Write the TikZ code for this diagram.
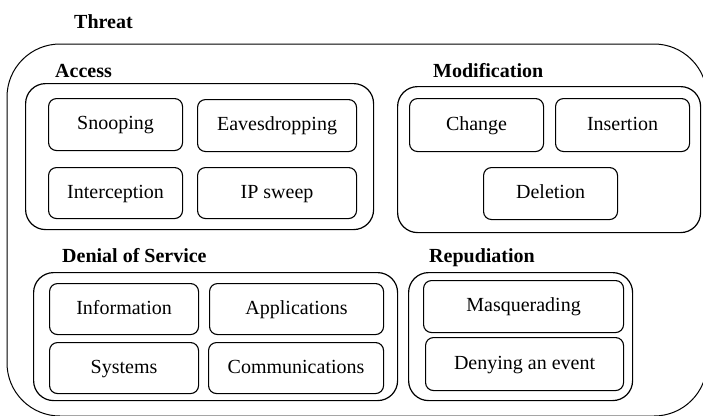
\documentclass[tikz,border=0pt]{standalone}
\usepackage{fontspec}
\setmainfont{Liberation Serif}[BoldFont={Liberation Serif Bold}]
\usetikzlibrary{positioning}
\tikzset{
  frame/.style  = {draw, line width=1pt, rounded corners=53pt},
  group/.style  = {draw, line width=1.2pt, rounded corners=20pt, inner sep=0pt,
                   anchor=north west},
  item/.style   = {draw, line width=1.1pt, rounded corners=8pt, inner sep=0pt,
                   align=center, anchor=north west, text height=14pt, text depth=4pt,
                   font=\rmfamily\fontsize{20}{24}\selectfont},
  title/.style  = {anchor=base west, inner sep=0pt,
                   font=\rmfamily\fontsize{20}{24}\selectfont\bfseries}
}

\begin{document}
\begin{tikzpicture}[x=1pt, y=-1pt]
\useasboundingbox (0,0) rectangle (703,415);
\clip (0,0) rectangle (703,415);

% outer frame, runs a little past the page on the right and bottom
\node[title] (threat) at (74,28) {Threat};
\draw[frame] (7,44) rectangle (707,416);

% Access
\node[title] (accesslbl) at (55,77) {Access};
\node[group, minimum width=348pt, minimum height=146pt] (access) at (25,83) {};
\node[item, minimum width=134pt, minimum height=52pt] (snoop) at (48,98) {Snooping};
\node[item, minimum width=159pt, minimum height=52pt] (eaves) at (197,99) {Eavesdropping};
\node[item, minimum width=134pt, minimum height=51pt] (intercept) at (48,167) {Interception};
\node[item, minimum width=159pt, minimum height=51pt] (ipsweep) at (197,167) {IP sweep};

% Modification
\node[title] (modiflbl) at (433,77) {Modification};
\node[group, minimum width=303pt, minimum height=146pt] (modif) at (397,86) {};
\node[item, minimum width=134pt, minimum height=53pt] (change) at (409,98) {Change};
\node[item, minimum width=134pt, minimum height=53pt] (insert) at (555,98) {Insertion};
\node[item, minimum width=134pt, minimum height=52pt] (delete) at (483,167) {Deletion};

% Denial of Service
\node[title] (doslbl) at (62,262) {Denial of Service};
\node[group, minimum width=364pt, minimum height=128pt] (dos) at (33,272) {};
\node[item, minimum width=149pt, minimum height=51pt] (info) at (49,283) {Information};
\node[item, minimum width=174pt, minimum height=51pt] (apps) at (209,283) {Applications};
\node[item, minimum width=149pt, minimum height=51pt] (sys) at (49,342) {Systems};
\node[item, minimum width=175pt, minimum height=51pt] (comms) at (208,342) {Communications};

% Repudiation
\node[title] (repudlbl) at (429,262) {Repudiation};
\node[group, minimum width=224pt, minimum height=128pt] (repud) at (408,272) {};
\node[item, minimum width=200pt, minimum height=52pt] (masq) at (423,280) {Masquerading};
\node[item, minimum width=198pt, minimum height=53pt] (deny) at (425,337) {Denying an event};
\end{tikzpicture}
\end{document}
